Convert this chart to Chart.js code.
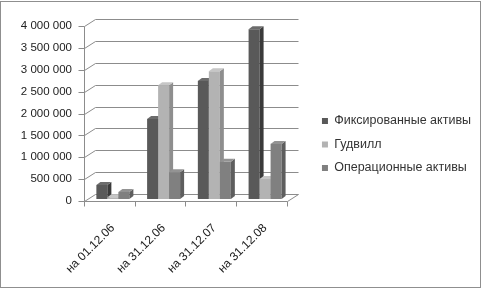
<!DOCTYPE html>
<html>
<head>
<meta charset="utf-8">
<script src="https://cdn.jsdelivr.net/npm/chart.js@4"></script>
<style>
  html, body { margin: 0; padding: 0; background: #fff; }
</style>
</head>
<body>
<canvas id="chart" width="482" height="289"></canvas>
<script>
const categories = ['на 01.12.06', 'на 31.12.06', 'на 31.12.07', 'на 31.12.08'];
const seriesNames = ['Фиксированные активы', 'Гудвилл', 'Операционные активы'];
const fixedAssets = [320000, 1830000, 2700000, 3880000];
const goodwill = [40000, 2600000, 2920000, 460000];
const operatingAssets = [160000, 610000, 850000, 1260000];
const yMax = 4000000;
const yStep = 500000;

// front / side / top shades per series
const frontColors = ['#595959', '#b3b3b3', '#808080'];
const sideColors = ['#3a3a3a', '#8e8e8e', '#5e5e5e'];
const topColors = ['#6c6c6c', '#c6c6c6', '#939393'];

const LINE = '#8c8c8c';
const DX = 4, DY = -3;              // bar depth
const FX = -3.5, FY = 2;            // front plane offset from bar plane
const BX = 7.5, BY = -5;            // back wall offset from bar plane

const fmt = v => String(v).replace(/\B(?=(\d{3})+(?!\d))/g, ' ');

const box3d = {
  id: 'box3d',
  beforeDraw(chart) {
    const ctx = chart.ctx;
    ctx.save();
    ctx.fillStyle = '#fff';
    ctx.fillRect(0, 0, chart.width, chart.height);
    ctx.strokeStyle = '#8f8f8f';
    ctx.strokeRect(0.5, 1.5, 480, 286);
    ctx.restore();
  },
  beforeDatasetsDraw(chart) {
    const { ctx, chartArea: a, scales: { y } } = chart;
    ctx.save();
    ctx.strokeStyle = LINE;
    ctx.lineWidth = 1;
    const lx = Math.round(a.left + FX) + 0.5;
    const bx = Math.round(a.left + BX) + 0.5;
    const rx = Math.round(a.right + BX) + 0.5;
    const frx = Math.round(a.right + FX) + 0.5;
    const y0 = y.getPixelForValue(0);
    ctx.beginPath();
    y.ticks.forEach(t => {
      const py = y.getPixelForValue(t.value);
      const fy = Math.round(py + FY) + 0.5, by = Math.round(py + BY) + 0.5;
      ctx.moveTo(lx - 6, fy); ctx.lineTo(lx, fy);
      ctx.moveTo(lx, fy); ctx.lineTo(bx, by); ctx.lineTo(rx, by);
    });
    // left axis
    ctx.moveTo(lx, Math.round(y.getPixelForValue(yMax) + FY) + 0.5);
    ctx.lineTo(lx, Math.round(y0 + FY) + 0.5);
    // floor
    const fy0 = Math.round(y0 + FY) + 0.5;
    ctx.moveTo(lx, fy0); ctx.lineTo(frx, fy0);
    ctx.lineTo(rx, Math.round(y0 + BY) + 0.5);
    const cw = (a.right - a.left) / categories.length;
    for (let i = 0; i <= categories.length; i++) {
      const tx = Math.round(a.left + FX + i * cw) + 0.5;
      ctx.moveTo(tx, fy0); ctx.lineTo(tx, fy0 + 5);
    }
    ctx.stroke();

    // bars, category by category so nearer faces overlap correctly
    for (let i = 0; i < categories.length; i++) {
      chart.data.datasets.forEach((ds, d) => {
        const el = chart.getDatasetMeta(d).data[i];
        const l = el.x - el.width / 2, r = el.x + el.width / 2;
        const t = el.y, b = el.base;
        ctx.fillStyle = frontColors[d];
        ctx.fillRect(l, t, r - l, b - t);
        ctx.fillStyle = sideColors[d];
        ctx.beginPath();
        ctx.moveTo(r, t); ctx.lineTo(r + DX, t + DY); ctx.lineTo(r + DX, b + DY); ctx.lineTo(r, b);
        ctx.closePath(); ctx.fill();
        ctx.fillStyle = topColors[d];
        ctx.beginPath();
        ctx.moveTo(l, t); ctx.lineTo(l + DX, t + DY); ctx.lineTo(r + DX, t + DY); ctx.lineTo(r, t);
        ctx.closePath(); ctx.fill();
      });
    }
    ctx.restore();
    return false;
  }
};

new Chart(document.getElementById('chart'), {
  type: 'bar',
  data: {
    labels: categories,
    datasets: [
      { label: seriesNames[0], data: fixedAssets, backgroundColor: frontColors[0] },
      { label: seriesNames[1], data: goodwill, backgroundColor: frontColors[1] },
      { label: seriesNames[2], data: operatingAssets, backgroundColor: frontColors[2] }
    ]
  },
  options: {
    responsive: false,
    animation: false,
    barThickness: 11,
    layout: { padding: { top: 24, left: 0, right: 1, bottom: 0 } },
    plugins: {
      tooltip: { enabled: false },
      legend: {
        position: 'right',
        align: 'start',
        maxWidth: 200,
        // empty title only pushes the items down to the middle of the plot
        title: { display: true, text: ' ', font: { size: 12 }, padding: { top: 65.35, bottom: 0 } },
        labels: {
          boxWidth: 6, boxHeight: 6, padding: 11,
          color: '#333',
          font: { family: 'Liberation Sans', size: 12.5 }
        }
      }
    },
    scales: {
      x: {
        grid: { display: false, drawTicks: false },
        border: { display: false },
        ticks: {
          autoSkip: false, maxRotation: 45, minRotation: 45, padding: 22,
          color: '#222', font: { family: 'Liberation Sans', size: 12 }
        },
        afterFit: s => { s.height = 90; }
      },
      y: {
        min: 0, max: yMax,
        grid: { display: false, drawTicks: false },
        border: { display: false },
        ticks: {
          stepSize: yStep, padding: 15.5, labelOffset: 2,
          color: '#222', font: { family: 'Liberation Sans', size: 11.5 },
          callback: v => fmt(v)
        },
        afterFit: s => { s.width = 87.5; }
      },
      gap: {
        position: 'right',
        grid: { display: false, drawTicks: false },
        border: { display: false },
        ticks: { display: false },
        afterFit: s => { s.width = 20.5; }
      }
    }
  },
  plugins: [box3d]
});
</script>
</body>
</html>
